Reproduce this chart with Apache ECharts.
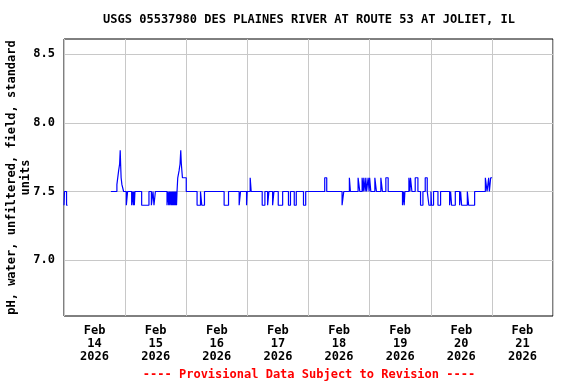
<!DOCTYPE html>
<html><head><meta charset="utf-8">
<script src="https://cdn.jsdelivr.net/npm/echarts@6/dist/echarts.min.js"></script>
<style>html,body{margin:0;padding:0;background:#fff}#c{width:576px;height:384px}</style>
</head><body><div id="c"></div>
<script>
// Hours since 2026-02-14 00:00 (local) and pH values (null = gap)
const hours = [0,0.2,1.0,1.4,1.41,
18.41,20.77,21.44,21.84,22.07,22.23,22.43,22.74,23.41,24.47,24.98,26.56,26.95,27.23,27.46,27.62,27.86,30.49,33.36,34.31,34.94,35.33,35.88,
40.45,40.84,41.11,41.39,41.63,41.90,42.18,42.41,42.57,42.77,42.92,43.08,43.24,43.40,43.55,43.71,43.87,44.03,44.18,44.38,
44.66,45.17,45.56,45.84,46.07,46.50,48.00,52.25,53.59,54.10,55.16,62.87,64.60,68.77,69.32,71.68,71.92,73.10,73.30,73.49,
77.82,78.88,79.95,80.46,81.91,82.43,84.12,85.85,88.13,88.92,90.41,91.20,94.03,94.90,
102.37,103.16,109.18,109.85,112.05,112.45,115.47,116.14,117.05,117.52,117.72,118.23,118.50,118.82,119.41,119.80,120.00,120.47,
122.05,122.67,124.41,125.03,126.37,127.28,132.90,133.30,133.57,133.85,135.42,135.82,136.05,136.60,137.90,138.96,139.99,140.93,
141.83,142.62,143.29,144.08,144.31,145.10,146.83,147.86,151.40,151.79,152.18,153.64,155.33,155.72,156.12,158.36,158.87,161.23,
165.44,166.11,166.74,167.02,167.53,168.08];
const ph = [7.4,7.5,7.4,7.4,null,
7.5,7.55,7.65,7.7,7.8,7.7,7.6,7.55,7.5,7.4,7.5,7.4,7.5,7.4,7.5,7.4,7.5,7.4,7.5,7.4,7.5,7.4,7.5,
7.4,7.5,7.4,7.5,7.4,7.5,7.4,7.5,7.4,7.5,7.4,7.5,7.4,7.5,7.4,7.5,7.4,7.5,7.4,7.5,
7.6,7.65,7.7,7.8,7.7,7.6,7.5,7.4,7.5,7.4,7.5,7.4,7.5,7.4,7.5,7.4,7.5,7.6,7.55,7.5,
7.4,7.5,7.4,7.5,7.4,7.5,7.4,7.5,7.4,7.5,7.4,7.5,7.4,7.5,
7.6,7.5,7.4,7.5,7.6,7.5,7.6,7.5,7.6,7.5,7.6,7.5,7.6,7.5,7.6,7.5,7.6,7.5,
7.6,7.5,7.6,7.5,7.6,7.5,7.4,7.5,7.4,7.5,7.6,7.5,7.6,7.5,7.6,7.5,7.4,7.5,
7.6,7.5,7.4,7.5,7.4,7.5,7.4,7.5,7.4,7.5,7.4,7.5,7.4,7.5,7.4,7.5,7.4,7.5,
7.6,7.5,7.6,7.5,7.6,7.6];
const dayLabels = ['Feb\n14\n2026','Feb\n15\n2026','Feb\n16\n2026','Feb\n17\n2026','Feb\n18\n2026','Feb\n19\n2026','Feb\n20\n2026','Feb\n21\n2026'];
const yTicks = [7.0,7.5,8.0,8.5];
const titleText = 'USGS 05537980 DES PLAINES RIVER AT ROUTE 53 AT JOLIET, IL';
const yName = 'pH, water, unfiltered, field, standard\nunits';
const footer = '---- Provisional Data Subject to Revision ----';

const FONT = 'DejaVu Sans Mono';
const chart = echarts.init(document.getElementById('c'), null, {renderer:'canvas'});
chart.setOption({
  animation:false,
  backgroundColor:'#fff',
  grid:{left:64,right:23,top:39,bottom:68,containLabel:false,outerBoundsMode:'none',
    show:true,borderColor:'#000',borderWidth:1,backgroundColor:'#fff'},
  graphic:[
    {type:'text',x:309,y:20,style:{text:titleText,font:'bold 12px "'+FONT+'"',fill:'#000',textAlign:'center',textVerticalAlign:'middle'}},
    {type:'text',x:309,y:375,style:{text:footer,font:'bold 12px "'+FONT+'"',fill:'#ff0000',textAlign:'center',textVerticalAlign:'middle'}}
  ],
  xAxis:[
    {type:'value',min:0,max:192,interval:24,position:'top',
     axisLine:{show:false},axisTick:{show:false},axisLabel:{show:false},
     splitLine:{show:true,lineStyle:{color:'#c8c8c8',width:1}}},
    {type:'category',data:dayLabels,boundaryGap:true,position:'bottom',
     axisLine:{show:false},axisTick:{show:false},splitLine:{show:false},
     axisLabel:{fontFamily:FONT,fontWeight:'bold',fontSize:12,color:'#000',lineHeight:13,margin:8,interval:0}}
  ],
  yAxis:{type:'value',min:6.594,max:8.61,
    name:yName,nameLocation:'middle',nameGap:31,nameRotate:90,nameMoveOverlap:false,
    nameTextStyle:{fontFamily:FONT,fontWeight:'bold',fontSize:12,color:'#000',lineHeight:14},
    axisLine:{show:false},
    axisTick:{show:false,customValues:yTicks},
    axisLabel:{customValues:yTicks,fontFamily:FONT,fontWeight:'bold',fontSize:12,color:'#000',margin:9,
      formatter:v=>v.toFixed(1)},
    splitLine:{show:true,lineStyle:{color:'#c8c8c8',width:1}}},
  series:[{type:'line',xAxisIndex:0,step:'end',showSymbol:false,connectNulls:false,
    lineStyle:{color:'#0000ff',width:1.2},itemStyle:{color:'#0000ff'},
    data:hours.map((h,i)=>[h,ph[i]])}]
});
</script></body></html>
